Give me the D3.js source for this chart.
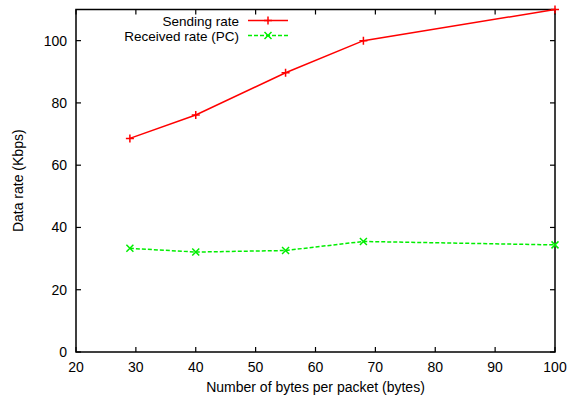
<!DOCTYPE html>
<html>
<head>
<meta charset="utf-8">
<script src="https://cdn.jsdelivr.net/npm/d3@7/dist/d3.min.js"></script>
<style>
  body { margin: 0; background: #fff; }
  text { font-family: "Liberation Sans", Arial, sans-serif; font-size: 14px; fill: #000; }
  .legend text { font-size: 13.5px; }
</style>
</head>
<body>
<div id="chart"></div>
<script>
// packet sizes (bytes)
var packetSizes = [29, 40, 55, 68, 100];
// sending rate (Kbps)
var sendingRate = [68.6, 76.1, 89.7, 100, 110];
// received rate on PC (Kbps)
var receivedRate = [33.3, 32.1, 32.6, 35.5, 34.4];

var xTicks = [20, 30, 40, 50, 60, 70, 80, 90, 100];
var yTicks = [0, 20, 40, 60, 80, 100];

var seriesNames = ["Sending rate", "Received rate (PC)"];

var width = 568, height = 398;
var margin = {left: 76, right: 13, top: 9.5, bottom: 46};

var svg = d3.select("#chart").append("svg")
    .attr("width", width)
    .attr("height", height);

var x = d3.scaleLinear()
    .domain([20, 100])
    .range([margin.left, width - margin.right]);
var y = d3.scaleLinear()
    .domain([0, 110])
    .range([height - margin.bottom, margin.top]);

var tickLen = 5;

// frame
svg.append("rect")
    .attr("x", x(20))
    .attr("y", y(110))
    .attr("width", x(100) - x(20))
    .attr("height", y(0) - y(110))
    .attr("fill", "none")
    .attr("stroke", "#000")
    .attr("stroke-width", 1.5);

// x ticks, inward and mirrored
var xt = svg.append("g");
xTicks.forEach(function (t) {
    xt.append("line")
        .attr("x1", x(t)).attr("x2", x(t))
        .attr("y1", y(0)).attr("y2", y(0) - tickLen)
        .attr("stroke", "#000").attr("stroke-width", 1.2);
    xt.append("line")
        .attr("x1", x(t)).attr("x2", x(t))
        .attr("y1", y(110)).attr("y2", y(110) + tickLen)
        .attr("stroke", "#000").attr("stroke-width", 1.2);
    xt.append("text")
        .attr("x", x(t))
        .attr("y", y(0) + 20)
        .attr("text-anchor", "middle")
        .text(t);
});

// y ticks
var yt = svg.append("g");
yTicks.forEach(function (t) {
    yt.append("line")
        .attr("x1", x(20)).attr("x2", x(20) + tickLen)
        .attr("y1", y(t)).attr("y2", y(t))
        .attr("stroke", "#000").attr("stroke-width", 1.2);
    yt.append("line")
        .attr("x1", x(100)).attr("x2", x(100) - tickLen)
        .attr("y1", y(t)).attr("y2", y(t))
        .attr("stroke", "#000").attr("stroke-width", 1.2);
    yt.append("text")
        .attr("x", x(20) - 9)
        .attr("y", y(t) + 5)
        .attr("text-anchor", "end")
        .text(t);
});

// axis titles
svg.append("text")
    .attr("x", (x(20) + x(100)) / 2)
    .attr("y", height - 6)
    .attr("text-anchor", "middle")
    .text("Number of bytes per packet (bytes)");

svg.append("text")
    .attr("transform", "translate(23," + ((y(0) + y(110)) / 2) + ") rotate(-90)")
    .attr("text-anchor", "middle")
    .text("Data rate (Kbps)");

var line = d3.line()
    .x(function (d) { return x(d[0]); })
    .y(function (d) { return y(d[1]); });

var sendData = packetSizes.map(function (p, i) { return [p, sendingRate[i]]; });
var recvData = packetSizes.map(function (p, i) { return [p, receivedRate[i]]; });

function plus(g, cx, cy, color) {
    g.append("path")
        .attr("d", "M" + (cx - 4) + "," + cy + "H" + (cx + 4) + "M" + cx + "," + (cy - 4) + "V" + (cy + 4))
        .attr("stroke", color).attr("stroke-width", 1.5).attr("fill", "none");
}
function cross(g, cx, cy, color) {
    g.append("path")
        .attr("d", "M" + (cx - 3.5) + "," + (cy - 3.5) + "L" + (cx + 3.5) + "," + (cy + 3.5) +
            "M" + (cx - 3.5) + "," + (cy + 3.5) + "L" + (cx + 3.5) + "," + (cy - 3.5))
        .attr("stroke", color).attr("stroke-width", 1.5).attr("fill", "none");
}

var red = "#ff0000", green = "#00ee00";

svg.append("path")
    .datum(sendData)
    .attr("d", line)
    .attr("fill", "none")
    .attr("stroke", red)
    .attr("stroke-width", 1.5);

svg.append("path")
    .datum(recvData)
    .attr("d", line)
    .attr("fill", "none")
    .attr("stroke", green)
    .attr("stroke-width", 1.5)
    .attr("stroke-dasharray", "4,2");

var marks = svg.append("g");
sendData.forEach(function (d) { plus(marks, x(d[0]), y(d[1]), red); });
recvData.forEach(function (d) { cross(marks, x(d[0]), y(d[1]), green); });

// legend
var legend = svg.append("g").attr("class", "legend");
var legY = [20.5, 35.5];
[red, green].forEach(function (c, i) {
    legend.append("text")
        .attr("x", 239)
        .attr("y", legY[i] + 5)
        .attr("text-anchor", "end")
        .text(seriesNames[i]);
    legend.append("line")
        .attr("x1", 248).attr("x2", 288)
        .attr("y1", legY[i]).attr("y2", legY[i])
        .attr("stroke", c).attr("stroke-width", 1.5)
        .attr("stroke-dasharray", i === 1 ? "4,2" : null);
    if (i === 0) plus(legend, 268, legY[i], c);
    else cross(legend, 268, legY[i], c);
});
</script>
</body>
</html>
